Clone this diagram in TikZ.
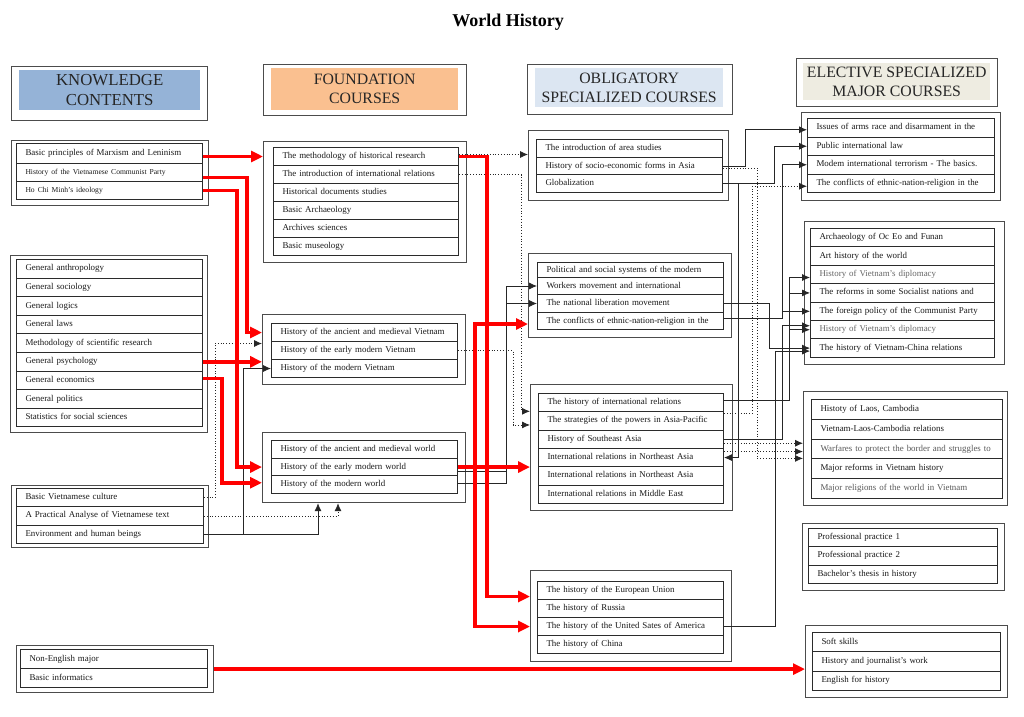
\documentclass[tikz,border=0pt]{standalone}
\usepackage{fontspec}
\setmainfont{Liberation Serif}
\usetikzlibrary{arrows.meta,calc}
\definecolor{hkblue}{HTML}{95B3D7}
\definecolor{hforange}{HTML}{FAC090}
\definecolor{hoblue}{HTML}{DCE6F2}
\definecolor{hebeige}{HTML}{EEECE1}
\definecolor{linegray}{HTML}{2B2B2B}
\newcommand\rw[6]{\pgfmathsetmacro\rwtw{#4-18}\node[cell,minimum width=#4pt,minimum height=#5pt,text width=\rwtw pt] (#1) at (#2,#3) {\mbox{#6}};}
\newcommand\fr[5]{\node[frame,minimum width=#4pt,minimum height=#5pt] (#1) at (#2,#3) {};}
\begin{document}
\begin{tikzpicture}[x=1pt,y=-1pt,
  cell/.style={draw=linegray,line width=1pt,anchor=north west,inner xsep=9pt,inner ysep=0pt,align=left,font=\fontsize{8.9}{10}\selectfont,text height=6pt,text depth=2pt,text=black!90},
  frame/.style={draw=black!70,line width=1.2pt,anchor=north west,inner sep=0pt},
  hdr/.style={anchor=north west,inner sep=0pt,align=center,font=\fontsize{16.8}{19.5}\selectfont,text=black!85},
  hdrs/.style={hdr,font=\fontsize{15.8}{19}\selectfont},
  redarr/.style={draw=red,line width=3.6pt,-{Triangle[length=12pt,width=11pt]}},
  blk/.style={draw=black!85,line width=0.8pt,-{Latex[length=8pt,width=7pt]}},
  blkline/.style={draw=black!85,line width=0.8pt},
  dotarr/.style={draw=black!85,line width=0.8pt,dotted,-{Latex[length=8pt,width=7pt]}}
]
\useasboundingbox (0,0) rectangle (1024,716);
\fill[white] (0,0) rectangle (1024,716);

\node[font=\bfseries\fontsize{18}{21}\selectfont] (title) at (508,22) {World History};

% headers
\fr{hkf}{11}{66}{196}{54}
\node[hdr,fill=hkblue,minimum width=181pt,minimum height=40pt] (hk) at (19,70) {KNOWLEDGE\\CONTENTS};
\fr{hff}{263}{64}{203}{51}
\node[hdrs,fill=hforange,minimum width=187pt,minimum height=42pt] (hf) at (271,68) {FOUNDATION\\COURSES};
\fr{hof}{527}{64}{205}{50}
\node[hdrs,fill=hoblue,minimum width=188pt,minimum height=39pt] (ho) at (535,68) {OBLIGATORY\\SPECIALIZED COURSES};
\fr{hef}{796}{58}{201}{48}
\node[hdrs,fill=hebeige,minimum width=187pt,minimum height=37pt] (he) at (803,63) {ELECTIVE SPECIALIZED\\MAJOR COURSES};

% frames
\fr{k1}{11}{140}{197}{65}
\fr{k2}{10}{255}{197}{177}
\fr{k3}{11}{485}{197}{62}
\fr{k4}{16}{645}{197}{47}
\fr{f1}{263}{141}{203}{121}
\fr{f2}{262}{314}{203}{70}
\fr{f3}{262}{432}{203}{70}
\fr{o1}{528}{130}{200}{70}
\fr{o2}{528}{253}{203}{84}
\fr{o3}{530}{384}{202}{126}
\fr{o4}{530}{570}{201}{91}
\fr{e1}{801}{112}{199}{88}
\fr{e2}{804}{221}{200}{143}
\fr{e3}{803}{391}{204}{114}
\fr{e4}{802}{523}{202}{67}
\fr{e5}{805}{625}{202}{72}

% knowledge rows
\rw{k1r1}{16}{143}{186}{20}{Basic principles of Marxism and Leninism}
\rw{k1r2}{16}{163}{186}{18}{\fontsize{7.6}{9}\selectfont History of the Vietnamese Communist Party}
\rw{k1r3}{16}{181}{186}{18}{\fontsize{7.6}{9}\selectfont Ho Chi Minh’s ideology}

\rw{k2r1}{16}{259}{186}{18.6}{General anthropology}
\rw{k2r2}{16}{277.6}{186}{18.6}{General sociology}
\rw{k2r3}{16}{296.2}{186}{18.6}{General logics}
\rw{k2r4}{16}{314.8}{186}{18.6}{General laws}
\rw{k2r5}{16}{333.4}{186}{18.6}{Methodology of scientific research}
\rw{k2r6}{16}{352}{186}{18.6}{General psychology}
\rw{k2r7}{16}{370.6}{186}{18.6}{General economics}
\rw{k2r8}{16}{389.2}{186}{18.6}{General politics}
\rw{k2r9}{16}{407.8}{186}{18.6}{Statistics for social sciences}

\rw{k3r1}{16}{488}{187}{18.3}{Basic Vietnamese culture}
\rw{k3r2}{16}{506.3}{187}{18.3}{A Practical Analyse of Vietnamese text}
\rw{k3r3}{16}{524.6}{187}{18.3}{Environment and human beings}

\rw{k4r1}{20}{649}{187}{19}{Non-English major}
\rw{k4r2}{20}{668}{187}{19}{Basic informatics}

% foundation rows
\rw{f1r1}{273}{147}{185}{18}{The methodology of historical research}
\rw{f1r2}{273}{165}{185}{18}{The introduction of international relations}
\rw{f1r3}{273}{183}{185}{18}{Historical documents studies}
\rw{f1r4}{273}{201}{185}{18}{Basic Archaeology}
\rw{f1r5}{273}{219}{185}{18}{Archives sciences}
\rw{f1r6}{273}{237}{185}{18}{Basic museology}

\rw{f2r1}{271}{323}{186}{18}{History of the ancient and medieval Vietnam}
\rw{f2r2}{271}{341}{186}{18}{History of the early modern Vietnam}
\rw{f2r3}{271}{359}{186}{18}{History of the modern Vietnam}

\rw{f3r1}{271}{440}{186}{17.7}{History of the ancient and medieval world}
\rw{f3r2}{271}{457.7}{186}{17.7}{History of the early modern world}
\rw{f3r3}{271}{475.4}{186}{17.7}{History of the modern world}

% obligatory rows
\rw{o1r1}{536}{139}{186}{17.7}{The introduction of area studies}
\rw{o1r2}{536}{156.7}{186}{17.7}{History of socio-economic forms in Asia}
\rw{o1r3}{536}{174.4}{186}{17.7}{Globalization}

\rw{o2r1}{537}{262}{186}{15}{Political and social systems of the modern}
\rw{o2r2}{537}{277}{186}{17}{Workers movement and international}
\rw{o2r3}{537}{294}{186}{18}{The national liberation movement}
\rw{o2r4}{537}{312}{186}{17}{The conflicts of ethnic-nation-religion in the}

\rw{o3r1}{538}{393}{185}{18.3}{The history of international relations}
\rw{o3r2}{538}{411.3}{185}{18.3}{The strategies of the powers in Asia-Pacific}
\rw{o3r3}{538}{429.6}{185}{18.3}{History of Southeast Asia}
\rw{o3r4}{538}{447.9}{185}{18.3}{International relations in Northeast Asia}
\rw{o3r5}{538}{466.2}{185}{18.3}{International relations in Northeast Asia}
\rw{o3r6}{538}{484.5}{185}{18.3}{International relations in Middle East}

\rw{o4r1}{537}{581}{186}{18}{The history of the European Union}
\rw{o4r2}{537}{599}{186}{18}{The history of Russia}
\rw{o4r3}{537}{617}{186}{18}{The history of the United Sates of America}
\rw{o4r4}{537}{635}{186}{18}{The history of China}

% elective rows
\rw{e1r1}{807}{118}{187}{18.5}{Issues of arms race and disarmament in the}
\rw{e1r2}{807}{136.5}{187}{18.5}{Public international law}
\rw{e1r3}{807}{155}{187}{18.5}{Modem international terrorism - The basics.}
\rw{e1r4}{807}{173.5}{187}{18.5}{The conflicts of ethnic-nation-religion in the}

\rw{e2r1}{810}{228}{184}{18.4}{Archaeology of Oc Eo and Funan}
\rw{e2r2}{810}{246.4}{184}{18.4}{Art history of the world}
\rw{e2r3}{810}{264.8}{184}{18.4}{\textcolor{black!60}{History of Vietnam’s diplomacy}}
\rw{e2r4}{810}{283.2}{184}{18.4}{The reforms in some Socialist nations and}
\rw{e2r5}{810}{301.6}{184}{18.4}{The foreign policy of the Communist Party}
\rw{e2r6}{810}{320}{184}{18.4}{\textcolor{black!60}{History of Vietnam’s diplomacy}}
\rw{e2r7}{810}{338.4}{184}{18.4}{The history of Vietnam-China relations}

\rw{e3r1}{811}{399}{191}{19.8}{Histoty of Laos, Cambodia}
\rw{e3r2}{811}{418.8}{191}{19.8}{Vietnam-Laos-Cambodia relations}
\rw{e3r3}{811}{438.6}{191}{19.8}{\textcolor{black!65}{Warfares to protect the border and struggles to}}
\rw{e3r4}{811}{458.4}{191}{19.8}{Major reforms in Vietnam history}
\rw{e3r5}{811}{478.2}{191}{19.8}{\textcolor{black!65}{Major religions of the world in Vietnam}}

\rw{e4r1}{808}{528}{189}{18.3}{Professional practice 1}
\rw{e4r2}{808}{546.3}{189}{18.3}{Professional practice 2}
\rw{e4r3}{808}{564.6}{189}{18.3}{Bachelor’s thesis in history}

\rw{e5r1}{812}{632}{188}{19.3}{Soft skills}
\rw{e5r2}{812}{651.3}{188}{19.3}{History and journalist’s work}
\rw{e5r3}{812}{670.6}{188}{19.3}{English for history}

% channel coordinates
\coordinate (xa) at (247,0);
\coordinate (xb) at (237,0);
\coordinate (xc) at (222,0);
\coordinate (xd) at (487,0);
\coordinate (xe) at (475,0);
\coordinate (xf) at (318,0);
\coordinate (xg) at (243,0);
\coordinate (xh) at (215,0);
\coordinate (xi) at (338,0);
\coordinate (xj) at (521,0);
\coordinate (xk) at (513,0);
\coordinate (xl) at (506,0);
\coordinate (xm) at (745,0);
\coordinate (xn) at (757,0);
\coordinate (xo) at (774,0);
\coordinate (xp) at (738,0);
\coordinate (xq) at (752,0);
\coordinate (xr) at (789,0);
\coordinate (xs) at (769,0);
\coordinate (xt) at (782,0);
\coordinate (xu) at (775,0);

% black connectors, left part
\draw[blk] (k3r3.east) -| (xf |- f3.south);
\draw[blk] (xg |- k3r3.east) |- (f2r3.west);
\draw[dotarr] (k3r1.east) -| ($(xh |- f2r2.west)+(0,-7)$) -- ($(f2.west |- f2r2.west)+(0,-7)$);
\draw[dotarr] (k3r2.east) -| (xi |- f3.south);
\draw[dotarr] ($(f1r1.east)+(0,-2)$) -- ($(o1.west |- f1r1.east)+(0,-2)$);
\draw[dotarr] (f1r2.east) -| (xj |- o3r2.north) -- (o3.west |- o3r2.north);
\draw[dotarr] (f2r2.east) -| ($(xk |- o3r2.west)+(0,4)$) -- ($(o3.west |- o3r2.west)+(0,4)$);
\draw[blkline] ($(f3r2.east)+(0,4)$) -- ($(xl |- f3r2.east)+(0,4)$);
\draw[blk] ($(f3r3.east)+(0,-1)$) -| (xl |- o2r2.west) -- (o2r2.west);
\draw[blk] (xl |- o2r3.west) -- (o2r3.west);

% black connectors, right part
\draw[blk] (o1r2.east) -| ($(xm |- e1r1.west)+(0,2)$) -- ($(e1r1.west)+(0,2)$);
\draw[dotarr] ($(o1r2.east)+(0,2)$) -| ($(xn |- e3r3.south)+(0,-1)$) -- ($(e3.west |- e3r3.south)+(0,-1)$);
\draw[blk] (o1r3.east) -| (xo |- e1r2.west) -- (e1r2.west);
\draw[blk] (o1r3.east) -| (xp |- o3r4.east) -- (o3r4.east);
\draw[dotarr] ($(o3r2.north east)+(0,2)$) -| ($(xq |- e1r4.west)+(0,3)$) -- ($(e1r4.west)+(0,3)$);
\draw[blk] ($(o3r1.east)+(0,-2)$) -| ($(xr |- e2r3.west)+(0,3)$) -- ($(e2r3.west)+(0,3)$);
\draw[blk] (xr |- e2r4.west) -- (e2r4.west);
\draw[blk] (xr |- e2r6.west) -- (e2r6.west);
\draw[blk] (o2r3.east) -| (xs |- e2r7.west) -- (e2r7.west);
\draw[blk] ($(o2r4.east)+(0,-3)$) -| (xt |- e1r3.west) -- (e1r3.west);
\draw[blk] (xt |- e2r5.west) -- (e2r5.west);
\draw[blk] (o3r3.east) -| ($(xt |- e2r6.west)+(0,-4)$) -- ($(e2r6.west)+(0,-4)$);
\draw[blk] (o4r3.east) -| ($(xu |- e2r7.west)+(0,3)$) -- ($(e2r7.west)+(0,3)$);
\draw[dotarr] ($(o3r3.east)+(0,4)$) -- ($(e3.west |- o3r3.east)+(0,4)$);
\draw[dotarr] ($(o3r4.east)+(0,-6)$) -- ($(e3.west |- o3r4.east)+(0,-6)$);

% red connectors
\draw[redarr] ($(k1r1.east)+(0,3)$) -- ($(f1.west |- k1r1.east)+(0,3)$);
\draw[redarr] ($(k1r2.east)+(0,5)$) -| (xa |- f2r1.west) -- (f2.west |- f2r1.west);
\draw[redarr] (k1r3.east) -| (xb |- f3r2.west) -- (f3.west |- f3r2.west);
\draw[redarr] (k2r6.east) -- (f2.west |- k2r6.east);
\draw[redarr] ($(k2r7.east)+(0,-2)$) -| ($(xc |- f3r3.west)+(0,-2)$) -- ($(f3.west |- f3r3.west)+(0,-2)$);
\draw[redarr] (f1r1.east) -| ($(xd |- o4r1.west)+(0,6)$) -- ($(o4.west |- o4r1.west)+(0,6)$);
\draw[redarr] (f3r2.east) -- (o3.west |- f3r2.east);
\draw[redarr] (xe |- f3r2.east) |- ($(o2.west |- o2r4.west)+(0,3)$);
\draw[redarr] (xe |- f3r2.east) |- (o4.west |- o4r3.west);
\draw[redarr] (k4.east) -- (e5.west |- k4.east);
\end{tikzpicture}
\end{document}
